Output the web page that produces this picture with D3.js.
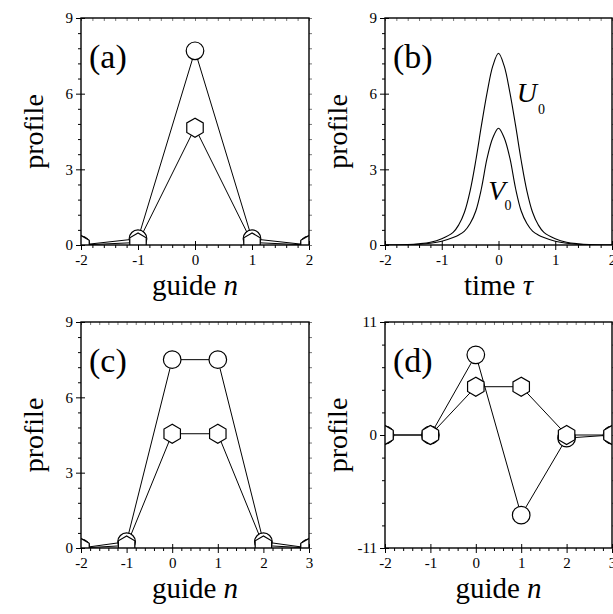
<!DOCTYPE html>
<html>
<head>
<meta charset="utf-8">
<script src="https://cdn.jsdelivr.net/npm/d3@7"></script>
<style>
body { margin: 0; background: #fff; }
svg { display: block; }
text { font-family: "Liberation Serif", "Times New Roman", serif; fill: #000; }
</style>
</head>
<body>
<svg id="fig" width="613" height="614"></svg>
<script>
/*
Four panel profile figure: guide amplitudes (a, c, d) and pulse shape (b)
*/

// panel (a)
var guideA = [-2, -1, 0, 1, 2];
var uA = [0, 0.25, 7.7, 0.25, 0];
var vA = [0, 0.1, 4.65, 0.1, 0];

// panel (b)
var tau = [-2, -1.6, -1.4, -1.2, -1, -0.8, -0.7, -0.6, -0.5, -0.4, -0.3, -0.2, -0.1, 0,
           0.1, 0.2, 0.3, 0.4, 0.5, 0.6, 0.7, 0.8, 1, 1.2, 1.4, 1.6, 2];
var U0 = [0, 0.02, 0.05, 0.11, 0.25, 0.5, 0.8, 1.3, 2.15, 3.35, 4.75, 6.05, 7.1, 7.6,
          7.1, 6.05, 4.75, 3.35, 2.15, 1.3, 0.8, 0.5, 0.25, 0.11, 0.05, 0.02, 0];
var V0 = [0, 0.01, 0.03, 0.07, 0.15, 0.3, 0.4, 0.55, 0.85, 1.35, 2.25, 3.45, 4.25, 4.63,
          4.25, 3.45, 2.25, 1.35, 0.85, 0.55, 0.4, 0.3, 0.15, 0.07, 0.03, 0.01, 0];

// panel (c)
var guideC = [-2, -1, 0, 1, 2, 3];
var uC = [0, 0.25, 7.5, 7.5, 0.25, 0];
var vC = [0, 0.1, 4.55, 4.55, 0.1, 0];

// panel (d)
var guideD = [-2, -1, 0, 1, 2, 3];
var uD = [0, 0, 7.8, -7.8, -0.3, 0];
var vD = [0, 0, 4.7, 4.7, 0, 0];

// tick labels
var xTicks4 = [-2, -1, 0, 1, 2];
var xTicks5 = [-2, -1, 0, 1, 2, 3];
var yTicks9 = [0, 3, 6, 9];
var yTicks11 = [-11, 0, 11];

var svg = d3.select("#fig");
var fontFam = '"Liberation Serif", "Times New Roman", serif';

function drawPanel(id, box, xDomain, yDomain, xMajor, yMajor, xStep, yStep) {
  var g = svg.append("g").attr("transform", "translate(" + box.left + "," + box.top + ")");
  var x = d3.scaleLinear().domain(xDomain).range([0, box.w]);
  var y = d3.scaleLinear().domain(yDomain).range([box.h, 0]);

  var isMajor = function(list) {
    return function(v) { return !list.some(function(m) { return Math.abs(m - v) < 1e-6; }); };
  };
  var xAll = d3.range(xDomain[0], xDomain[1] + 1e-6, xStep);
  var yAll = d3.range(yDomain[0], yDomain[1] + 1e-6, yStep);
  var xMinor = xAll.filter(isMajor(xMajor));
  var yMinor = yAll.filter(isMajor(yMajor));

  // minor ticks, outward on bottom/left
  g.append("g").attr("class", "minor").attr("transform", "translate(0," + box.h + ")")
    .call(d3.axisBottom(x).tickValues(xMinor).tickSize(3).tickSizeOuter(0).tickFormat(""));
  g.append("g").attr("class", "minor")
    .call(d3.axisLeft(y).tickValues(yMinor).tickSize(3).tickSizeOuter(0).tickFormat(""));

  // major ticks with labels, crossing the frame
  var xa = g.append("g").attr("transform", "translate(0," + box.h + ")")
    .call(d3.axisBottom(x).tickValues(xMajor).tickSize(5).tickSizeOuter(0).tickPadding(4)
      .tickFormat(function(d) { return String(d); }));
  xa.selectAll(".tick line").attr("y1", -4);
  var ya = g.append("g")
    .call(d3.axisLeft(y).tickValues(yMajor).tickSize(5).tickSizeOuter(0).tickPadding(3)
      .tickFormat(function(d) { return String(d); }));
  ya.selectAll(".tick line").attr("x1", 4);

  // inward ticks on top/right
  g.append("g").attr("class", "mirror")
    .call(d3.axisBottom(x).tickValues(xAll).tickSize(3).tickSizeOuter(0).tickFormat(""));
  g.append("g").attr("class", "mirror").attr("transform", "translate(" + box.w + ",0)")
    .call(d3.axisLeft(y).tickValues(yAll).tickSize(-3).tickSizeOuter(0).tickFormat(""));

  g.selectAll(".domain").remove();
  g.selectAll(".tick text").attr("font-size", 15).attr("font-family", fontFam);
  g.selectAll(".tick line").attr("stroke-width", 1);
  g.selectAll(".mirror .tick line").attr("stroke-width", 0.8).attr("stroke", "#555");

  g.append("clipPath").attr("id", "clip-" + id)
    .append("rect").attr("width", box.w).attr("height", box.h);
  var plot = g.append("g").attr("clip-path", "url(#clip-" + id + ")");

  g.append("rect")
    .attr("width", box.w).attr("height", box.h)
    .attr("fill", "none").attr("stroke", "#000").attr("stroke-width", 1.4);

  g.append("text")
    .attr("x", 8).attr("y", 50)
    .attr("font-size", 34)
    .text("(" + id + ")");

  g.append("text")
    .attr("transform", "translate(-38," + box.h / 2 + ")rotate(-90)")
    .attr("text-anchor", "middle")
    .attr("font-size", 28)
    .text("profile");

  return { g: g, plot: plot, x: x, y: y, box: box };
}

function xLabel(p, word, sym) {
  var t = p.g.append("text")
    .attr("x", p.box.w / 2).attr("y", p.box.h + 50)
    .attr("text-anchor", "middle")
    .attr("font-size", 29);
  t.append("tspan").text(word + " ");
  t.append("tspan").attr("font-style", "italic").text(sym);
}

function hexagon(r) {
  var pts = d3.range(6).map(function(i) {
    var a = Math.PI / 2 + i * Math.PI / 3;
    return [r * Math.cos(a), -r * Math.sin(a)];
  });
  return "M" + pts.join("L") + "Z";
}

function guidePanel(p, n, u, v) {
  var line = d3.line()
    .x(function(d) { return p.x(d[0]); })
    .y(function(d) { return p.y(d[1]); });
  var uPts = d3.zip(n, u);
  var vPts = d3.zip(n, v);

  p.plot.append("path").datum(uPts)
    .attr("d", line).attr("fill", "none").attr("stroke", "#000").attr("stroke-width", 1);
  p.plot.append("path").datum(vPts)
    .attr("d", line).attr("fill", "none").attr("stroke", "#000").attr("stroke-width", 1);

  p.plot.selectAll("circle.u")
    .data(uPts)
    .enter().append("circle")
      .classed("u", true)
      .attr("cx", function(d) { return p.x(d[0]); })
      .attr("cy", function(d) { return p.y(d[1]); })
      .attr("r", 8.8)
      .attr("fill", "#fff").attr("stroke", "#000").attr("stroke-width", 1.2);

  p.plot.selectAll("path.v")
    .data(vPts)
    .enter().append("path")
      .classed("v", true)
      .attr("transform", function(d) { return "translate(" + p.x(d[0]) + "," + p.y(d[1]) + ")"; })
      .attr("d", hexagon(9.5))
      .attr("fill", "#fff").attr("stroke", "#000").attr("stroke-width", 1.2);
}

// (a)
var pa = drawPanel("a", {left: 81, top: 18, w: 228, h: 227}, [-2, 2], [0, 9], xTicks4, yTicks9, 0.2, 0.6);
guidePanel(pa, guideA, uA, vA);
xLabel(pa, "guide", "n");

// (b)
var pb = drawPanel("b", {left: 385, top: 18, w: 227, h: 227}, [-2, 2], [0, 9], xTicks4, yTicks9, 0.2, 0.6);
var curve = d3.line()
  .x(function(d) { return pb.x(d[0]); })
  .y(function(d) { return pb.y(d[1]); })
  .curve(d3.curveCatmullRom);
pb.plot.append("path").datum(d3.zip(tau, U0))
  .attr("d", curve).attr("fill", "none").attr("stroke", "#000").attr("stroke-width", 1.1);
pb.plot.append("path").datum(d3.zip(tau, V0))
  .attr("d", curve).attr("fill", "none").attr("stroke", "#000").attr("stroke-width", 1.1);
xLabel(pb, "time", "τ");

var uLab = pb.g.append("text").attr("x", pb.x(0.32)).attr("y", pb.y(5.65)).attr("font-size", 28);
uLab.append("tspan").attr("font-style", "italic").text("U");
uLab.append("tspan").attr("font-size", 14).attr("dx", 1).attr("dy", 12).text("0");
var vLab = pb.g.append("text").attr("x", pb.x(-0.18)).attr("y", pb.y(1.8)).attr("font-size", 28);
vLab.append("tspan").attr("font-style", "italic").text("V");
vLab.append("tspan").attr("font-size", 14).attr("dx", -1).attr("dy", 10).text("0");

// (c)
var pc = drawPanel("c", {left: 81, top: 322, w: 228, h: 226}, [-2, 3], [0, 9], xTicks5, yTicks9, 0.2, 0.6);
guidePanel(pc, guideC, uC, vC);
xLabel(pc, "guide", "n");

// (d)
var pd = drawPanel("d", {left: 385, top: 322, w: 227, h: 226}, [-2, 3], [-11, 11], xTicks5, yTicks11, 0.2, 2.2);
guidePanel(pd, guideD, uD, vD);
xLabel(pd, "guide", "n");
</script>
</body>
</html>
